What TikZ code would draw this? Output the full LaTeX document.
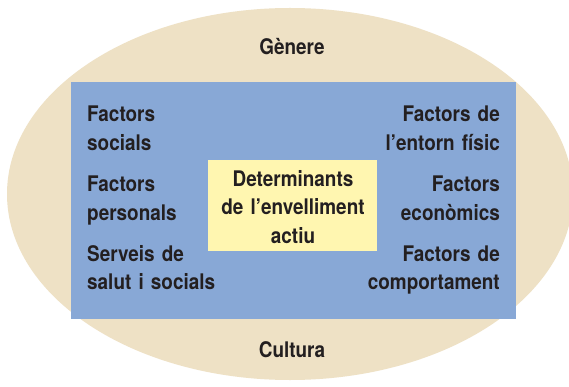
\documentclass[tikz,border=0pt]{standalone}
\usepackage{fontspec}
\setmainfont[FakeStretch=0.88]{TeX Gyre Heros}
\usetikzlibrary{shapes.geometric}
\definecolor{beige}{HTML}{EEE1C5}
\definecolor{panelblue}{HTML}{88A8D6}
\definecolor{coreyellow}{HTML}{FFF6B0}
\definecolor{ink}{HTML}{231F20}
\newcommand{\lblfont}{\fontsize{21.5}{28.5}\selectfont\bfseries\spaceskip=3.6pt plus 1pt minus 0.5pt\relax}
\tikzset{
  lbl/.style={inner sep=0pt, text=ink, font=\lblfont},
  leftgrp/.style={lbl, text width=150pt, align=left, anchor=base west},
  rightgrp/.style={lbl, text width=150pt, align=right, anchor=base east},
}
\begin{document}
\begin{tikzpicture}[x=1pt,y=-1pt]
\useasboundingbox (0,0) rectangle (569,387);
\fill[white] (0,0) rectangle (569,387);
\node[ellipse, fill=beige, inner sep=0pt, minimum width=566pt, minimum height=372pt] (outer) at (290,194) {};
\node[fill=panelblue, inner sep=0pt, minimum width=445pt, minimum height=237pt, anchor=north west] (panel) at (71,82) {};
\node[fill=coreyellow, inner sep=0pt, minimum width=169pt, minimum height=91pt, anchor=north west] (core) at (208,160) {};
\node[lbl, text width=170pt, align=center, anchor=base] (coretext) at (293,186) {Determinants\\de l’envelliment\\actiu};
\node[lbl, anchor=base] (genere) at (292,55) {Gènere};
\node[lbl, anchor=base] (cultura) at (292,357) {Cultura};
\node[leftgrp] (soc) at (87,122) {Factors\\socials};
\node[leftgrp] (pers) at (87,192) {Factors\\personals};
\node[leftgrp] (serv) at (87,261) {Serveis de\\salut i socials};
\node[rightgrp] (fis) at (500,122) {Factors de\\l’entorn físic};
\node[rightgrp] (eco) at (500,192) {Factors\\econòmics};
\node[rightgrp] (comp) at (500,261) {Factors de\\comportament};
\end{tikzpicture}
\end{document}
